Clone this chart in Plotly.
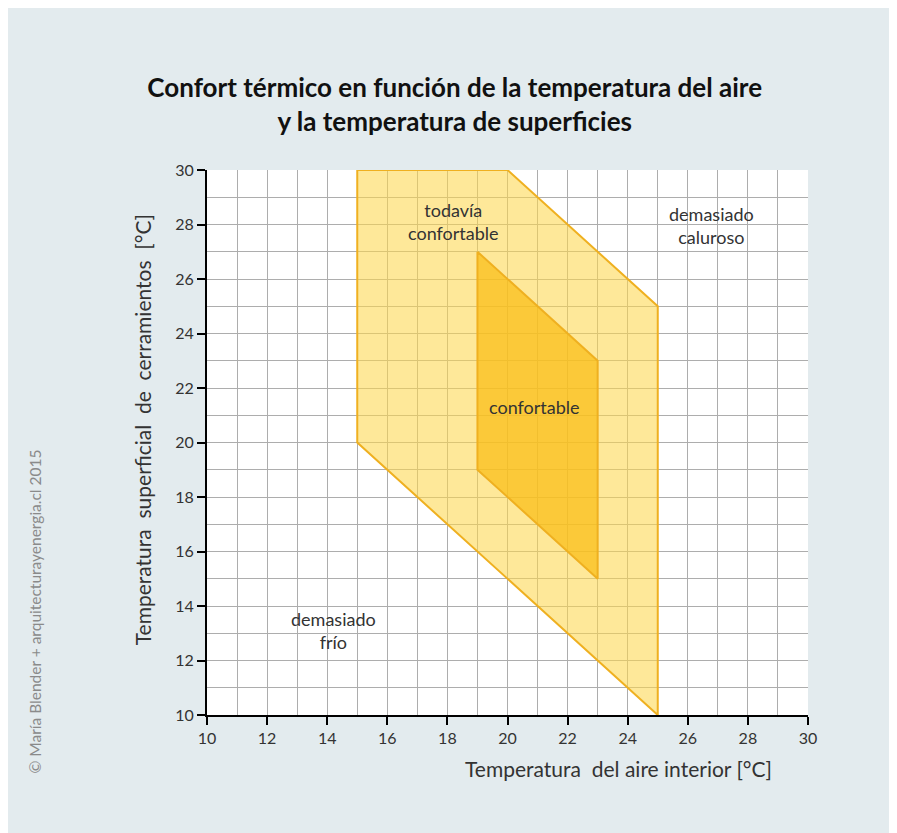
import plotly.graph_objects as go

# Data
outer_x = [15, 20, 25, 25, 15, 15]
outer_y = [30, 30, 25, 10, 20, 30]
inner_x = [19, 23, 23, 19, 19]
inner_y = [27, 23, 15, 19, 27]

label_text = ["todavía<br>confortable", "demasiado<br>caluroso", "confortable", "demasiado<br>frío"]
label_x = [18.2, 26.8, 20.9, 14.2]
label_y = [28.1, 27.95, 21.3, 13.1]

tick_vals = [10, 12, 14, 16, 18, 20, 22, 24, 26, 28, 30]

FONT = "Lato"
BG = "#e3ebee"
EDGE = "#efb020"

fig = go.Figure()
fig.add_trace(go.Scatter(x=outer_x, y=outer_y, mode="lines", fill="toself",
                         fillcolor="rgba(253,215,80,0.58)",
                         line=dict(color=EDGE, width=2), hoverinfo="skip", showlegend=False))
fig.add_trace(go.Scatter(x=inner_x, y=inner_y, mode="lines", fill="toself",
                         fillcolor="rgba(250,188,20,0.72)",
                         line=dict(color=EDGE, width=2), hoverinfo="skip", showlegend=False))

for t, x, y in zip(label_text, label_x, label_y):
    fig.add_annotation(x=x, y=y, text=t, showarrow=False,
                       font=dict(family=FONT, size=18, color="#333333"))

fig.add_annotation(xref="paper", yref="paper", x=0.684, y=-0.099, xanchor="center", yanchor="middle",
                   text="Temperatura  del aire interior [°C]", showarrow=False,
                   font=dict(family=FONT, size=21, color="#333333"))
fig.add_annotation(xref="paper", yref="paper", x=-0.106, y=0.523, xanchor="center", yanchor="middle",
                   textangle=-90, text="Temperatura  superficial  de  cerramientos  [°C]", showarrow=False,
                   font=dict(family=FONT, size=21, color="#333333"))
fig.add_annotation(xref="paper", yref="paper", x=-0.286, y=0.19, xanchor="center", yanchor="middle",
                   textangle=-90, text="© María Blender + arquitecturayenergia.cl 2015", showarrow=False,
                   font=dict(family=FONT, size=15.5, color="#8a8a8a"))

fig.update_layout(
    width=897, height=833,
    paper_bgcolor=BG, plot_bgcolor="white",
    margin=dict(l=199, r=97, t=162, b=126),
    title=dict(text="<b>Confort térmico en función de la temperatura del aire<br>y la temperatura de superficies</b>",
               x=0.498, xanchor="center", y=0.893, yanchor="middle",
               font=dict(family=FONT, size=26, color="#111111")),
    xaxis=dict(range=[10, 30], tickvals=tick_vals, showgrid=True, gridcolor="#adadad", gridwidth=1,
               zeroline=False, showline=True, linecolor="black", linewidth=2, ticks="outside",
               ticklen=8, tickwidth=2, tickcolor="black",
               tickfont=dict(family=FONT, size=16, color="#333333"), fixedrange=True),
    yaxis=dict(range=[10, 30], tickvals=tick_vals, showgrid=True, gridcolor="#adadad", gridwidth=1,
               zeroline=False, showline=True, linecolor="black", linewidth=2, ticks="outside",
               ticklen=8, tickwidth=2, tickcolor="black",
               tickfont=dict(family=FONT, size=16, color="#333333"), fixedrange=True),
)
# minor grid every 1 unit
fig.update_xaxes(minor=dict(dtick=1, showgrid=True, gridcolor="#adadad", gridwidth=1, tick0=10))
fig.update_yaxes(minor=dict(dtick=1, showgrid=True, gridcolor="#adadad", gridwidth=1, tick0=10))

fig.write_html("out.html")
